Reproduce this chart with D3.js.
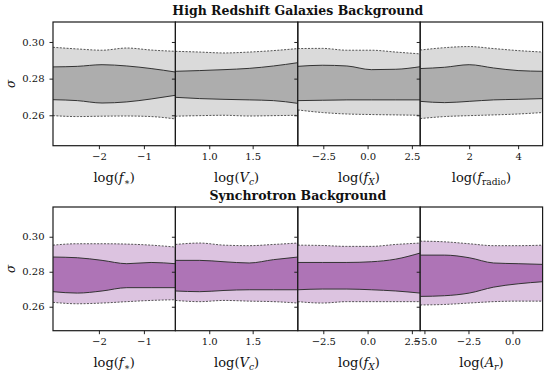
<!DOCTYPE html>
<html>
<head>
<meta charset="utf-8">
<script src="https://cdn.jsdelivr.net/npm/d3@7"></script>
<style>
  body { margin: 0; background: #fff; }
  text { fill: #111; }
</style>
</head>
<body>
<div id="chart"></div>
<script>
// values (sigma bands, 68% inner / 95% outer)

var titles = ["High Redshift Galaxies Background", "Synchrotron Background"];
var yTicks = [0.26, 0.28, 0.30];
var yTickLabels = ["0.26", "0.28", "0.30"];
var yRanges = [[0.2434, 0.3109], [0.2463, 0.3170]];

var galXRanges = [[-3.02, -0.30], [0.61, 2.02], [-3.94, 2.97], [0, 5]];
var synXRanges = [[-3.02, -0.30], [0.61, 2.02], [-3.94, 2.97], [-5.24, 1.71]];

var galXTicks = [[-2, -1], [1.0, 1.5], [-2.5, 0, 2.5], [2, 4]];
var galXTickLabels = [["−2", "−1"], ["1.0", "1.5"], ["−2.5", "0.0", "2.5"], ["2", "4"]];
var synXTicks = [[-2, -1], [1.0, 1.5], [-2.5, 0, 2.5], [-5, -2.5, 0]];
var synXTickLabels = [["−2", "−1"], ["1.0", "1.5"], ["−2.5", "0.0", "2.5"], ["−5.0", "−2.5", "0.0"]];

// label pieces: [text, kind]  kind: "" roman, "i" italic, "s" subscript, "is" italic subscript
var labelFstar = [["log(", ""], ["f", "i"], ["∗", "s"], [")", ""]];
var labelVc = [["log(", ""], ["V", "i"], ["c", "is"], [")", ""]];
var labelFx = [["log(", ""], ["f", "i"], ["X", "is"], [")", ""]];
var labelFradio = [["log(", ""], ["f", "i"], ["radio", "s"], [")", ""]];
var labelAr = [["log(", ""], ["A", "i"], ["r", "is"], [")", ""]];
var galXLabels = [labelFstar, labelVc, labelFx, labelFradio];
var synXLabels = [labelFstar, labelVc, labelFx, labelAr];

// each band array: [outer low, inner low, inner high, outer high]
var galFstarX = [-3.02, -2.48, -1.93, -1.38, -0.84, -0.30];
var galFstarBand = [
  [0.2598, 0.2593, 0.2595, 0.2596, 0.2593, 0.2580],
  [0.2685, 0.2680, 0.2667, 0.2673, 0.2689, 0.2709],
  [0.2864, 0.2867, 0.2876, 0.2869, 0.2855, 0.2836],
  [0.2971, 0.2962, 0.2955, 0.2967, 0.2956, 0.2949]
];
var galVcX = [0.61, 0.89, 1.17, 1.46, 1.74, 2.02];
var galVcBand = [
  [0.2595, 0.2598, 0.2600, 0.2596, 0.2598, 0.2600],
  [0.2698, 0.2691, 0.2687, 0.2684, 0.2680, 0.2665],
  [0.2840, 0.2844, 0.2849, 0.2856, 0.2869, 0.2887],
  [0.2949, 0.2945, 0.2940, 0.2945, 0.2953, 0.2964]
];
var galFxX = [-3.94, -2.56, -1.17, 0.21, 1.59, 2.97];
var galFxBand = [
  [0.2629, 0.2615, 0.2607, 0.2604, 0.2602, 0.2600],
  [0.2680, 0.2682, 0.2684, 0.2684, 0.2684, 0.2684],
  [0.2867, 0.2873, 0.2869, 0.2849, 0.2851, 0.2865],
  [0.2964, 0.2965, 0.2955, 0.2955, 0.2945, 0.2935]
];
var galFradioX = [0, 1, 2, 3, 4, 5];
var galFradioBand = [
  [0.2582, 0.2593, 0.2598, 0.2602, 0.2607, 0.2615],
  [0.2676, 0.2669, 0.2676, 0.2684, 0.2687, 0.2691],
  [0.2855, 0.2862, 0.2876, 0.2858, 0.2844, 0.2840],
  [0.2956, 0.2969, 0.2975, 0.2964, 0.2953, 0.2945]
];

var synFstarX = [-3.02, -2.48, -1.93, -1.38, -0.84, -0.30];
var synFstarBand = [
  [0.2625, 0.2617, 0.2621, 0.2629, 0.2636, 0.2640],
  [0.2686, 0.2678, 0.2690, 0.2709, 0.2709, 0.2709],
  [0.2884, 0.2880, 0.2865, 0.2846, 0.2853, 0.2846],
  [0.2952, 0.2960, 0.2960, 0.2958, 0.2952, 0.2941]
];
var synVcX = [0.61, 0.89, 1.17, 1.46, 1.74, 2.02];
var synVcBand = [
  [0.2636, 0.2629, 0.2636, 0.2632, 0.2629, 0.2621],
  [0.2690, 0.2686, 0.2693, 0.2697, 0.2697, 0.2697],
  [0.2865, 0.2865, 0.2857, 0.2850, 0.2869, 0.2884],
  [0.2956, 0.2964, 0.2952, 0.2949, 0.2956, 0.2964]
];
var synFxX = [-3.94, -2.56, -1.17, 0.21, 1.59, 2.97];
var synFxBand = [
  [0.2629, 0.2621, 0.2629, 0.2629, 0.2629, 0.2629],
  [0.2697, 0.2701, 0.2701, 0.2697, 0.2690, 0.2678],
  [0.2853, 0.2853, 0.2853, 0.2857, 0.2872, 0.2907],
  [0.2952, 0.2950, 0.2945, 0.2945, 0.2956, 0.2964]
];
var synArX = [-5.24, -3.85, -2.46, -1.07, 0.32, 1.71];
var synArBand = [
  [0.2610, 0.2613, 0.2621, 0.2629, 0.2632, 0.2632],
  [0.2659, 0.2663, 0.2678, 0.2712, 0.2731, 0.2743],
  [0.2895, 0.2895, 0.2880, 0.2850, 0.2846, 0.2842],
  [0.2975, 0.2971, 0.2960, 0.2949, 0.2949, 0.2952]
];

var galXs = [galFstarX, galVcX, galFxX, galFradioX];
var galBands = [galFstarBand, galVcBand, galFxBand, galFradioBand];
var synXs = [synFstarX, synVcX, synFxX, synArX];
var synBands = [synFstarBand, synVcBand, synFxBand, synArBand];


var width = 547,
    height = 375,
    left = 53,
    right = 542.6,
    panelW = (right - left) / 4,
    plotH = 123.7,
    rowTop = [22, 207],
    serif = "'DejaVu Serif', 'Liberation Serif', serif";

var rows = [
  { title: titles[0], xr: galXRanges, ticks: galXTicks, tickLabels: galXTickLabels, labels: galXLabels, xs: galXs, bands: galBands, light: "#dadada", dark: "#adadad" },
  { title: titles[1], xr: synXRanges, ticks: synXTicks, tickLabels: synXTickLabels, labels: synXLabels, xs: synXs, bands: synBands, light: "#dcc3e0", dark: "#ae74b6" }
];

var svg = d3.select("#chart")
    .append("svg")
    .attr("width", width)
    .attr("height", height)
    .style("font-family", serif);

function writeLabel(sel, parts, size) {
  var shift = 0;
  parts.forEach(function(p) {
    var t = sel.append("tspan").text(p[0]);
    var sub = p[1] == "s" || p[1] == "is";
    if (p[1] == "i" || p[1] == "is") t.attr("font-style", "italic");
    if (sub) {
      t.attr("font-size", size * 0.7).attr("dy", 3 - shift);
      shift = 3;
    } else {
      if (shift) t.attr("dy", -shift);
      shift = 0;
    }
  });
}

rows.forEach(function(row, r) {
  var top = rowTop[r];
  var y = d3.scaleLinear().domain(yRanges[r]).range([top + plotH, top]);

  svg.append("text")
      .attr("x", (left + right) / 2)
      .attr("y", top - 7)
      .attr("text-anchor", "middle")
      .attr("font-weight", "bold")
      .attr("font-size", 12.5)
      .style("font-family", serif)
      .text(row.title);

  svg.append("text")
      .attr("transform", "translate(15," + (top + plotH / 2) + ") rotate(-90)")
      .attr("text-anchor", "middle")
      .attr("font-style", "italic")
      .attr("font-size", 12)
      .style("font-family", serif)
      .text("σ");

  for (var p = 0; p < 4; p++) {
    var x0 = left + p * panelW;
    var x = d3.scaleLinear().domain(row.xr[p]).range([x0, x0 + panelW]);
    var xv = row.xs[p], b = row.bands[p];
    var id = "clip" + r + p;

    svg.append("clipPath").attr("id", id)
      .append("rect").attr("x", x0).attr("y", top).attr("width", panelW).attr("height", plotH);

    var g = svg.append("g").attr("clip-path", "url(#" + id + ")");

    function band(lo, hi) {
      return d3.area()
        .x(function(d, i) { return x(xv[i]); })
        .y0(function(d, i) { return y(b[lo][i]); })
        .y1(function(d, i) { return y(b[hi][i]); })
        .curve(d3.curveMonotoneX)(xv);
    }
    function edge(k) {
      return d3.line()
        .x(function(d, i) { return x(xv[i]); })
        .y(function(d, i) { return y(b[k][i]); })
        .curve(d3.curveMonotoneX)(xv);
    }

    g.append("path").attr("d", band(0, 3)).attr("fill", row.light);
    g.append("path").attr("d", band(1, 2)).attr("fill", row.dark);
    [0, 3].forEach(function(k) {
      g.append("path").attr("d", edge(k)).attr("fill", "none")
        .attr("stroke", "#444").attr("stroke-width", 0.9).attr("stroke-dasharray", "2,1.4");
    });
    [1, 2].forEach(function(k) {
      g.append("path").attr("d", edge(k)).attr("fill", "none")
        .attr("stroke", "#333").attr("stroke-width", 1);
    });

    // y axis (labels only on first panel)
    var ya = d3.axisLeft(y).tickValues(yTicks).tickSize(3.5).tickPadding(5)
        .tickFormat(function(d, i) { return p == 0 ? yTickLabels[i] : ""; });
    var yg = svg.append("g").attr("transform", "translate(" + x0 + ",0)").call(ya);
    yg.attr("font-family", null);
    yg.select(".domain").remove();
    yg.selectAll("text").attr("font-size", 10).style("font-family", serif);
    yg.selectAll("line").attr("stroke", "#222");

    var labs = row.tickLabels[p];
    var xa = d3.axisBottom(x).tickValues(row.ticks[p]).tickSize(3.5).tickPadding(4)
        .tickFormat(function(d, i) { return labs[i]; });
    var xg = svg.append("g").attr("transform", "translate(0," + (top + plotH) + ")").call(xa);
    xg.attr("font-family", null);
    xg.select(".domain").remove();
    xg.selectAll("text").attr("font-size", 10).style("font-family", serif);
    xg.selectAll("line").attr("stroke", "#222");

    var lab = svg.append("text")
        .attr("x", x0 + panelW / 2)
        .attr("y", top + plotH + 36)
        .attr("text-anchor", "middle")
        .attr("font-size", 13)
        .style("font-family", serif);
    writeLabel(lab, row.labels[p], 13);

    svg.append("rect")
        .attr("x", x0).attr("y", top).attr("width", panelW).attr("height", plotH)
        .attr("fill", "none").attr("stroke", "#1a1a1a").attr("stroke-width", 1.2);
  }
});
</script>
</body>
</html>
